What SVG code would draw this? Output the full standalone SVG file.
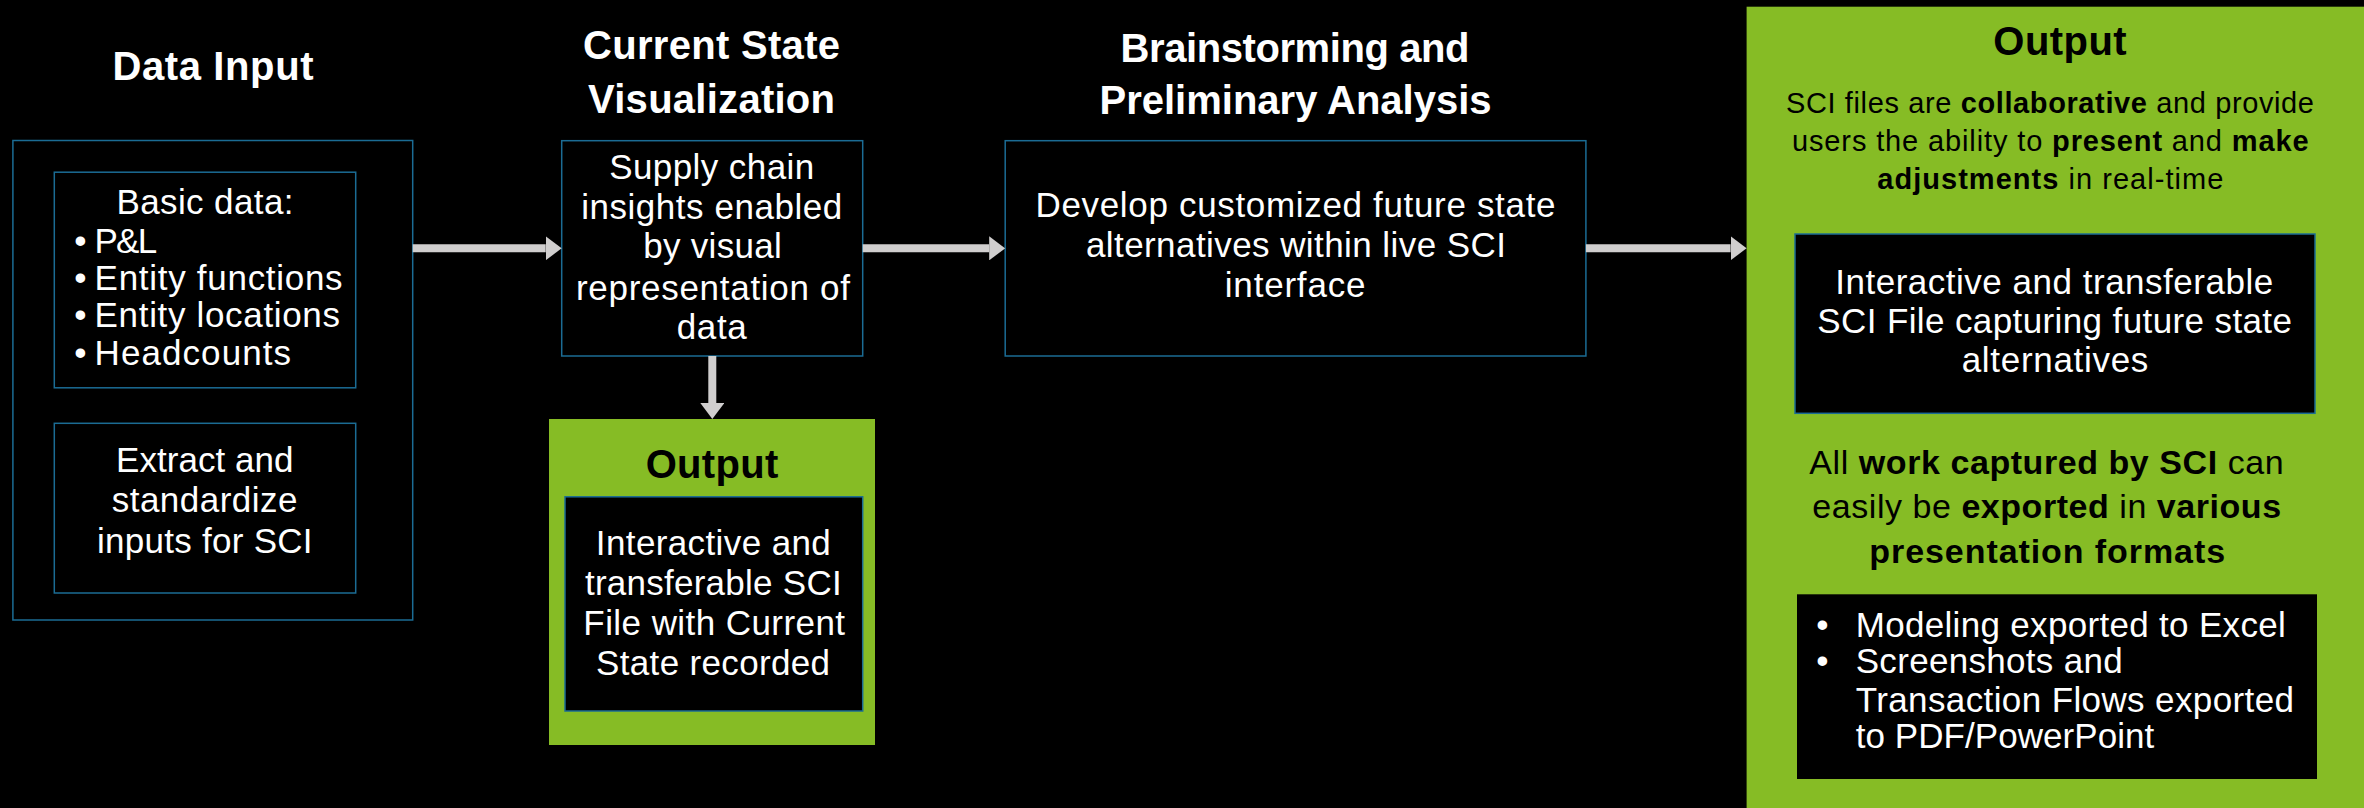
<svg xmlns="http://www.w3.org/2000/svg" width="2364" height="808" viewBox="0 0 2364 808">
<defs>
<style>
.bg{fill:#000}
.box{fill:#000;stroke:#1B6C94;stroke-width:1.5}
.green{fill:#86BC25}
.t{font-family:"Liberation Sans",Arial,sans-serif;fill:#fff}
.title{font-size:40px;font-weight:700;text-anchor:middle}
.body{font-size:35px;text-anchor:middle}
.lb{font-size:35px}
.dark{fill:#000}
.b{font-weight:700}
.conn{stroke:#D0CECE;stroke-width:8;fill:none}
</style>
<marker id="ah" viewBox="0 0 16 24" refX="0" refY="12" markerUnits="userSpaceOnUse" markerWidth="16" markerHeight="24" orient="auto">
<path d="M0,0 L16,12 L0,24 z" fill="#D0CECE"/>
</marker>
</defs>
<rect class="bg" x="0" y="0" width="2364" height="808"/>

<g id="data-input">
<text class="t title" x="213" y="79.6" textLength="201">Data Input</text>
<rect class="box" x="12.9" y="140.5" width="399.8" height="479.5"/>
</g>
<g id="basic-data">
<rect class="box" x="54.3" y="172.2" width="301.4" height="215.6"/>
<text class="t body" x="205" y="214.3" textLength="177">Basic data:</text>
<text class="t lb" x="80.4" y="253" text-anchor="middle">•</text>
<text class="t lb" x="94.6" y="253" textLength="62.5">P&amp;L</text>
<text class="t lb" x="80.4" y="289.8" text-anchor="middle">•</text>
<text class="t lb" x="94.6" y="289.8" textLength="248">Entity functions</text>
<text class="t lb" x="80.4" y="326.5" text-anchor="middle">•</text>
<text class="t lb" x="94.6" y="326.5" textLength="245.4">Entity locations</text>
<text class="t lb" x="80.4" y="364.5" text-anchor="middle">•</text>
<text class="t lb" x="94.6" y="364.5" textLength="196.4">Headcounts</text>
</g>
<g id="extract">
<rect class="box" x="54.3" y="423.3" width="301.4" height="169.7"/>
<text class="t body" x="204.8" y="472.2" textLength="177.5">Extract and</text>
<text class="t body" x="204.6" y="512.2" textLength="185.7">standardize</text>
<text class="t body" x="204.8" y="553" textLength="215.5">inputs for SCI</text>
</g>

<g id="current-state">
<text class="t title" x="711.5" y="59" textLength="257">Current State</text>
<text class="t title" x="711.5" y="112.5" textLength="247">Visualization</text>
<rect class="box" x="561.7" y="140.7" width="301" height="215.3"/>
<text class="t body" x="711.7" y="179.4" textLength="205">Supply chain</text>
<text class="t body" x="711.7" y="219" textLength="261">insights enabled</text>
<text class="t body" x="712.5" y="258.4" textLength="138.4">by visual</text>
<text class="t body" x="713" y="299.6" textLength="274">representation of</text>
<text class="t body" x="711.7" y="339.3" textLength="70">data</text>
</g>

<g id="output-current">
<rect class="green" x="549" y="419" width="326" height="326"/>
<text class="t title dark" x="712" y="477.5" textLength="132.7">Output</text>
<rect class="box" x="565" y="496.8" width="297.7" height="214.2"/>
<text class="t body" x="713.3" y="555" textLength="235">Interactive and</text>
<text class="t body" x="713.3" y="594.8" textLength="256.7">transferable SCI</text>
<text class="t body" x="714.2" y="635" textLength="261.7">File with Current</text>
<text class="t body" x="713" y="675.2" textLength="234">State recorded</text>
</g>

<g id="brainstorming">
<text class="t title" x="1295" y="61.7" textLength="349">Brainstorming and</text>
<text class="t title" x="1295.5" y="114.3" textLength="392">Preliminary Analysis</text>
<rect class="box" x="1005.2" y="140.7" width="580.7" height="215.3"/>
<text class="t body" x="1295.5" y="216.7" textLength="520">Develop customized future state</text>
<text class="t body" x="1295.9" y="257" textLength="420">alternatives within live SCI</text>
<text class="t body" x="1295.1" y="296.7" textLength="140.6">interface</text>
</g>

<g id="output-future">
<rect class="green" x="1746.6" y="6.7" width="630" height="820"/>
<text class="t title dark" x="2060" y="55" textLength="133.4">Output</text>
<text class="t dark" font-size="29" text-anchor="middle" x="2050" y="112.7" textLength="528">SCI files are <tspan class="b">collaborative</tspan> and provide</text>
<text class="t dark" font-size="29" text-anchor="middle" x="2050.3" y="150.7" textLength="516.6">users the ability to <tspan class="b">present</tspan> and <tspan class="b">make</tspan></text>
<text class="t dark" font-size="29" text-anchor="middle" x="2050.3" y="189.3" textLength="346"><tspan class="b">adjustments</tspan> in real-time</text>
<text class="t dark" font-size="34" text-anchor="middle" x="2046.5" y="474" textLength="474.3">All <tspan class="b">work captured by SCI</tspan> can</text>
<text class="t dark" font-size="34" text-anchor="middle" x="2046.7" y="518.3" textLength="468.7">easily be <tspan class="b">exported</tspan> in <tspan class="b">various</tspan></text>
<text class="t dark b" font-size="34" text-anchor="middle" x="2047.2" y="563.3" textLength="355.7">presentation formats</text>
</g>
<g id="future-file">
<rect class="box" x="1795" y="234" width="520" height="179.3"/>
<text class="t body" x="2054.2" y="294.3" textLength="438">Interactive and transferable</text>
<text class="t body" x="2054.6" y="333.3" textLength="474.7">SCI File capturing future state</text>
<text class="t body" x="2055" y="372" textLength="186.6">alternatives</text>
</g>
<g id="export-list">
<rect x="1797" y="594.3" width="520" height="184.7" fill="#000"/>
<text class="t lb" x="1822.3" y="637.3" text-anchor="middle">•</text>
<text class="t lb" x="1855.7" y="637.3" textLength="430.1">Modeling exported to Excel</text>
<text class="t lb" x="1822.3" y="673.3" text-anchor="middle">•</text>
<text class="t lb" x="1855.7" y="673.3" textLength="267">Screenshots and</text>
<text class="t lb" x="1855.7" y="711.7" textLength="438.3">Transaction Flows exported</text>
<text class="t lb" x="1855.7" y="748.3" textLength="298.6">to PDF/PowerPoint</text>
</g>

<g id="connectors">
<line class="conn" x1="412.7" y1="248.3" x2="545.7" y2="248.3" marker-end="url(#ah)"/>
<line class="conn" x1="862.7" y1="248.3" x2="989.2" y2="248.3" marker-end="url(#ah)"/>
<line class="conn" x1="1585.9" y1="248.3" x2="1730.6" y2="248.3" marker-end="url(#ah)"/>
<line class="conn" x1="712.3" y1="356" x2="712.3" y2="403" marker-end="url(#ah)"/>
</g>
</svg>
